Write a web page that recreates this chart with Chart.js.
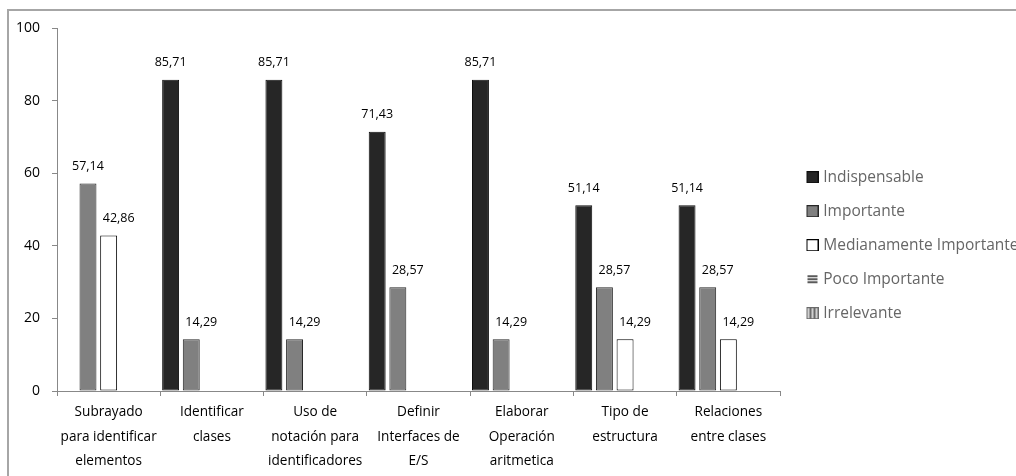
<!DOCTYPE html>
<html>
<head>
<meta charset="utf-8">
<script src="https://cdn.jsdelivr.net/npm/chart.js@4.4.1/dist/chart.umd.min.js"></script>
<style>
  html, body { margin: 0; padding: 0; background: #fff; overflow: hidden; }
  #wrap { position: relative; width: 1016px; height: 476px; }
</style>
</head>
<body>
<div id="wrap"><canvas id="c" width="1016" height="476"></canvas></div>
<script>
// Categories (multi-line axis labels)
const categories = [
  ["Subrayado", "para identificar", "elementos"],
  ["Identificar", "clases"],
  ["Uso de", "notación para", "identificadores"],
  ["Definir", "Interfaces de", "E/S"],
  ["Elaborar", "Operación", "aritmetica"],
  ["Tipo de", "estructura"],
  ["Relaciones", "entre clases"]
];
const seriesNames = ["Indispensable", "Importante", "Medianamente Importante", "Poco Importante", "Irrelevante"];

// Percentages per series
const indispensable  = [0, 85.71, 85.71, 71.43, 85.71, 51.14, 51.14];
const importante     = [57.14, 14.29, 14.29, 28.57, 14.29, 28.57, 28.57];
const medianamente   = [42.86, 0, 0, 0, 0, 14.29, 14.29];
const pocoImportante = [0, 0, 0, 0, 0, 0, 0];
const irrelevante    = [0, 0, 0, 0, 0, 0, 0];

const yTicks = [0, 20, 40, 60, 80, 100];

const FONT = "'Open Sans', 'Noto Sans', sans-serif";

// Striped fills used by the last two series
function stripeCanvas(horizontal) {
  const c = document.createElement('canvas');
  c.width = 4; c.height = 4;
  const g = c.getContext('2d');
  g.fillStyle = '#c8c8c8'; g.fillRect(0, 0, 4, 4);
  g.fillStyle = '#555555';
  if (horizontal) { g.fillRect(0, 0, 4, 2); } else { g.fillRect(0, 0, 2, 4); }
  return c;
}
const tmpCtx = document.createElement('canvas').getContext('2d');
const hPattern = tmpCtx.createPattern(stripeCanvas(true), 'repeat');
const vPattern = tmpCtx.createPattern(stripeCanvas(false), 'repeat');

// Legend swatches: 23x12 images with the 12x12 box on the right
function swatch(kind) {
  const c = document.createElement('canvas');
  c.width = 23; c.height = 12;
  const g = c.getContext('2d');
  const x0 = 11;
  if (kind === 0) {
    g.fillStyle = '#0d0d0d'; g.fillRect(x0, 0, 12, 12);
    g.fillStyle = '#262626'; g.fillRect(x0 + 1, 1, 10, 10);
  } else if (kind === 1) {
    g.fillStyle = '#262626'; g.fillRect(x0, 0, 12, 12);
    g.fillStyle = '#808080'; g.fillRect(x0 + 1, 1, 10, 10);
  } else if (kind === 2) {
    g.fillStyle = '#000000'; g.fillRect(x0, 0, 12, 12);
    g.fillStyle = '#ffffff'; g.fillRect(x0 + 1, 1, 10, 10);
  } else if (kind === 3) {
    g.fillStyle = '#ffffff'; g.fillRect(x0, 0, 12, 12);
    g.fillStyle = '#5a5a5a';
    g.fillRect(x0 + 1, 2, 10, 2);
    g.fillRect(x0 + 1, 5, 10, 2);
    g.fillRect(x0 + 1, 8, 10, 2);
  } else {
    g.fillStyle = '#6a6a6a'; g.fillRect(x0, 0, 12, 12);
    g.fillStyle = '#d0d0d0'; g.fillRect(x0 + 1, 1, 10, 10);
    g.fillStyle = '#6a6a6a';
    g.fillRect(x0 + 3, 1, 2, 10);
    g.fillRect(x0 + 7, 1, 2, 10);
  }
  return c;
}
const swatches = [0, 1, 2, 3, 4].map(swatch);

const fills   = ['#262626', '#808080', '#ffffff', hPattern, vPattern];
const borders = ['#0d0d0d', '#262626', '#000000', '#555555', '#555555'];
const seriesData = [indispensable, importante, medianamente, pocoImportante, irrelevante];

const datasets = seriesNames.map((name, i) => ({
  label: name,
  data: seriesData[i],
  backgroundColor: fills[i],
  borderColor: borders[i],
  borderWidth: 1,
  borderSkipped: false,
  categoryPercentage: 1.0,
  barPercentage: 0.82
}));

// Outer frame of the chart
const framePlugin = {
  id: 'frame',
  beforeDraw(chart) {
    const g = chart.ctx;
    g.save();
    g.fillStyle = '#ffffff';
    g.fillRect(0, 0, chart.width, chart.height);
    g.strokeStyle = '#a6a6a6';
    g.lineWidth = 2;
    g.strokeRect(8, 10, chart.width + 40, chart.height + 40);
    g.restore();
  }
};

// Value labels above each non-zero bar; after the first labelled bar of a
// category the labels sit a little to the right
const valueLabels = {
  id: 'valueLabels',
  afterDatasetsDraw(chart) {
    const g = chart.ctx;
    g.save();
    g.font = `12.5px ${FONT}`;
    g.fillStyle = '#000000';
    g.textAlign = 'center';
    g.textBaseline = 'middle';
    const seen = new Array(chart.data.labels.length).fill(false);
    chart.data.datasets.forEach((ds, di) => {
      const meta = chart.getDatasetMeta(di);
      meta.data.forEach((bar, i) => {
        const v = ds.data[i];
        if (!v) return;
        const dx = seen[i] ? 10 : 0;
        seen[i] = true;
        g.fillText(v.toFixed(2).replace('.', ','), bar.x + dx, bar.y - 17);
      });
    });
    g.restore();
  }
};

new Chart(document.getElementById('c'), {
  type: 'bar',
  data: { labels: categories, datasets },
  plugins: [framePlugin, valueLabels],
  options: {
    responsive: false,
    devicePixelRatio: 1,
    animation: false,
    layout: { padding: { top: 28, left: 0, right: 0, bottom: 0 } },
    plugins: {
      tooltip: { enabled: false },
      legend: {
        position: 'right',
        align: 'start',
        maxWidth: 236,
        title: {
          display: true,
          text: '',
          font: { size: 10, lineHeight: '10px' },
          padding: { top: 113, bottom: 0 }
        },
        labels: {
          usePointStyle: true,
          pointStyleWidth: 17,
          padding: 18.5,
          color: '#000000',
          font: { family: FONT, size: 15.5 },
          generateLabels(chart) {
            return chart.data.datasets.map((ds, i) => ({
              text: ds.label,
              pointStyle: swatches[i],
              fillStyle: 'transparent',
              strokeStyle: 'transparent',
              lineWidth: 0,
              hidden: false,
              datasetIndex: i
            }));
          }
        }
      }
    },
    scales: {
      x: {
        offset: true,
        grid: {
          offset: true,
          drawOnChartArea: false,
          drawTicks: true,
          tickLength: 5,
          color: '#888888'
        },
        border: { display: true, color: '#888888', width: 1 },
        ticks: {
          autoSkip: false,
          maxRotation: 0,
          minRotation: 0,
          padding: 4,
          color: '#000000',
          font: { family: FONT, size: 13.6, lineHeight: '24.5px' }
        },
        afterFit(scale) { scale.height = 85; }
      },
      y: {
        min: 0,
        max: 100,
        grid: {
          drawOnChartArea: false,
          drawTicks: true,
          tickLength: 5,
          color: '#888888'
        },
        border: { display: true, color: '#888888', width: 1 },
        ticks: {
          padding: 12,
          color: '#000000',
          font: { family: FONT, size: 14 }
        },
        afterBuildTicks(scale) { scale.ticks = yTicks.map(v => ({ value: v })); },
        afterFit(scale) { scale.width = 57; }
      }
    }
  }
});
</script>
</body>
</html>
